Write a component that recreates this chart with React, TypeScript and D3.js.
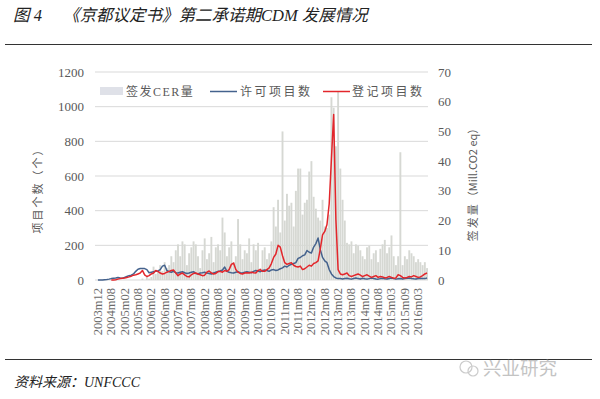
import React from 'react';
import * as d3 from 'd3';

const tickLabels = ['2003m12','2004m08','2005m02','2005m08','2006m02','2006m08','2007m02','2007m08','2008m02','2008m08','2009m02','2009m08','2010m02','2010m08','2011m02','2011m08','2012m02','2012m08','2013m02','2013m08','2014m02','2014m08','2015m03','2015m09','2016m03'];

const leftTicks = [0, 200, 400, 600, 800, 1000, 1200];
const rightTicks = [0, 10, 20, 30, 40, 50, 60, 70];

// 签发CER量 (Mill. CO2 eq), monthly
const cer = [
  0,0,0,0,0,0,0,0,0,0, 0,0,0,0,0,0,0,0,0,0, 0.5,0,1,0.5,
  1,4.5,2,3,5,3,6,4,5,8,
  6,10,12,8,13,12,5,9,11,13,
  12,8,4,10,14,7,9,14.5,6,11,
  12,10,21,16,8,11,13,6,8,20.5,
  12,7,10,9,14,6,12,10,12.5,4,
  10,11,7,9,13,24.5,18,27,16,50,
  20,29,25,26,18,30,37.5,37.5,22,26,
  27,36.5,40,28,24,21,20,27,18,17.5,
  22,61.5,58,45,63.5,37.5,27,20,12.5,12,
  13,9,12,11.5,10,8,7,11,11.5,7,
  9,10,6,10.5,12,13.5,9,11,15,8,
  5,8,43,5,8,7,10,9,8,6,
  7,6,5,6,4
];

// 许可项目数
const approved = [
  0,0,0,2,3,5,8,10,12,15,
  12,10,15,20,25,28,35,50,62,66,
  67,66,60,42,45,48,50,52,60,80,
  85,55,48,45,50,42,40,45,48,42,
  38,40,45,48,38,35,40,42,45,40,
  38,35,40,45,50,52,58,75,50,45,
  42,40,45,48,42,40,45,48,45,42,
  50,55,52,48,55,58,55,50,58,60,
  55,58,65,70,80,75,85,90,95,100,
  125,130,140,145,170,160,156,190,210,242,
  175,130,110,100,60,35,20,12,8,8,
  6,8,10,7,5,9,12,8,6,10,
  7,5,8,11,9,6,5,8,10,7,
  6,9,12,8,5,7,9,6,8,10,
  12,9,7,6,8,10,9,8,11
];

// 登记项目数
const registered: (number | null)[] = [
  null,null,null,null,null,null,0,0,2,5,
  8,10,12,15,18,22,28,30,35,40,
  55,30,20,25,35,40,55,50,40,35,
  38,45,50,55,58,40,25,35,40,30,
  20,18,30,38,40,35,30,25,28,45,
  52,40,35,38,48,50,45,55,50,60,
  90,98,60,45,38,35,40,42,40,45,
  42,40,55,60,50,50,60,70,95,130,
  150,200,190,140,100,90,95,100,85,78,
  75,80,60,65,75,85,80,95,100,110,
  180,260,280,320,440,700,955,350,60,35,
  30,35,40,25,20,25,30,35,28,20,
  25,30,22,15,20,25,15,20,18,12,
  15,20,15,10,12,30,25,15,12,15,
  20,18,25,20,15,18,25,35,40
];

const months: string[] = cer.map((_, i) => {
  const y = 2003 + Math.floor((11 + i) / 12);
  const m = ((11 + i) % 12) + 1;
  return `${y}m${m < 10 ? '0' + m : m}`;
});

const W = 600, H = 399;
const X0 = 97, X1 = 428, YB = 280, YT = 72;

export default function App() {
  const x = d3.scaleBand<string>().domain(months).range([X0, X1]).paddingInner(0.15);
  const yL = d3.scaleLinear().domain([0, 1200]).range([YB, YT]);
  const yR = d3.scaleLinear().domain([0, 70]).range([YB, YT]);
  const cx = (i: number) => (x(months[i]) as number) + x.bandwidth() / 2;

  const lineA = d3.line<number>().x((_, i) => cx(i)).y(d => yL(d));
  const lineR = d3.line<number | null>()
    .defined(d => d !== null)
    .x((_, i) => cx(i)).y(d => yL(d as number));

  const tickFont = '"Liberation Serif", "DejaVu Serif", serif';
  const cjk = '"Noto Sans CJK SC", sans-serif';

  return (
    <svg width={W} height={H} style={{ position: 'absolute', left: 0, top: 0, background: '#fff' }}>
      <rect x={0} y={0} width={W} height={H} fill="#fff" />
      {/* title */}
      <text x={13} y={21} fontSize={16.5} fontStyle="italic" fill="#222" fontFamily={`"Liberation Serif", ${cjk}`}>
        <tspan>图 4</tspan>
        <tspan x={63}>《京都议定书》第二承诺期CDM 发展情况</tspan>
      </text>
      <line x1={5} x2={592} y1={44.5} y2={44.5} stroke="#333" strokeWidth={1.2} />

      {/* grid */}
      {leftTicks.map(t => (
        <line key={t} x1={95} x2={X1} y1={yL(t)} y2={yL(t)} stroke="#d9d9d9" strokeWidth={1} />
      ))}

      {/* bars */}
      {cer.map((v, i) => v > 0 ? (
        <rect key={i} x={x(months[i])} y={yR(v)} width={x.bandwidth()} height={YB - yR(v)} fill="#d6d8d3" />
      ) : null)}

      {/* lines */}
      <path d={lineA(approved) || ''} fill="none" stroke="#44628d" strokeWidth={1.5} strokeLinejoin="round" />
      <path d={lineR(registered) || ''} fill="none" stroke="#e3262b" strokeWidth={1.5} strokeLinejoin="round" />

      {/* left ticks */}
      {leftTicks.map(t => (
        <text key={t} x={84} y={yL(t) + 4.5} textAnchor="end" fontSize={13} fill="#595959" fontFamily={tickFont}>{t}</text>
      ))}
      {/* right ticks */}
      {rightTicks.map(t => (
        <text key={t} x={438} y={yR(t) + 4.5} textAnchor="start" fontSize={13} fill="#595959" fontFamily={tickFont}>{t}</text>
      ))}

      {/* x tick labels */}
      {tickLabels.map((l, i) => {
        const xx = cx(i * 6) + 4;
        return (
          <text key={l + i} transform={`translate(${xx},288) rotate(-90)`} textAnchor="end" fontSize={12.5} fill="#6a6a6a" fontFamily={tickFont}>{l}</text>
        );
      })}

      {/* axis titles */}
      <text transform="translate(42,188) rotate(-90)" textAnchor="middle" fontSize={11} fill="#595959" fontFamily={cjk} letterSpacing={2}>项目个数（个）</text>
      <text transform="translate(477,182) rotate(-90)" textAnchor="middle" fontSize={11} fill="#595959" fontFamily={cjk}>
        <tspan letterSpacing={2}>签发量</tspan><tspan>（Mill.CO2 eq）</tspan>
      </text>

      {/* legend */}
      <rect x={100} y={87} width={23} height={8} fill="#dfe1e8" />
      <text x={126} y={95.5} fontSize={12} fill="#595959" fontFamily={`"Liberation Serif", ${cjk}`} letterSpacing={1.5}>签发CER量</text>
      <line x1={210} x2={237} y1={91.5} y2={91.5} stroke="#44628d" strokeWidth={1.5} />
      <text x={240} y={95.5} fontSize={12} fill="#595959" fontFamily={cjk} letterSpacing={2.5}>许可项目数</text>
      <line x1={323} x2={350} y1={91.5} y2={91.5} stroke="#e3262b" strokeWidth={1.5} />
      <text x={352} y={95.5} fontSize={12} fill="#595959" fontFamily={cjk} letterSpacing={2.5}>登记项目数</text>

      {/* footer */}
      <line x1={5} x2={592} y1={359.5} y2={359.5} stroke="#333" strokeWidth={1.2} />
      <text x={14} y={387} fontSize={14} fontStyle="italic" fill="#222" fontFamily={`"Liberation Serif", ${cjk}`}>资料来源：UNFCCC</text>
      <g opacity={0.5}>
        <circle cx={466} cy={367} r={6} fill="none" stroke="#999" strokeWidth={1.2} />
        <circle cx={473} cy={371} r={5} fill="none" stroke="#999" strokeWidth={1.2} />
        <text x={483} y={375} fontSize={18.5} fill="#888" fontFamily={cjk}>兴业研究</text>
      </g>
    </svg>
  );
}
